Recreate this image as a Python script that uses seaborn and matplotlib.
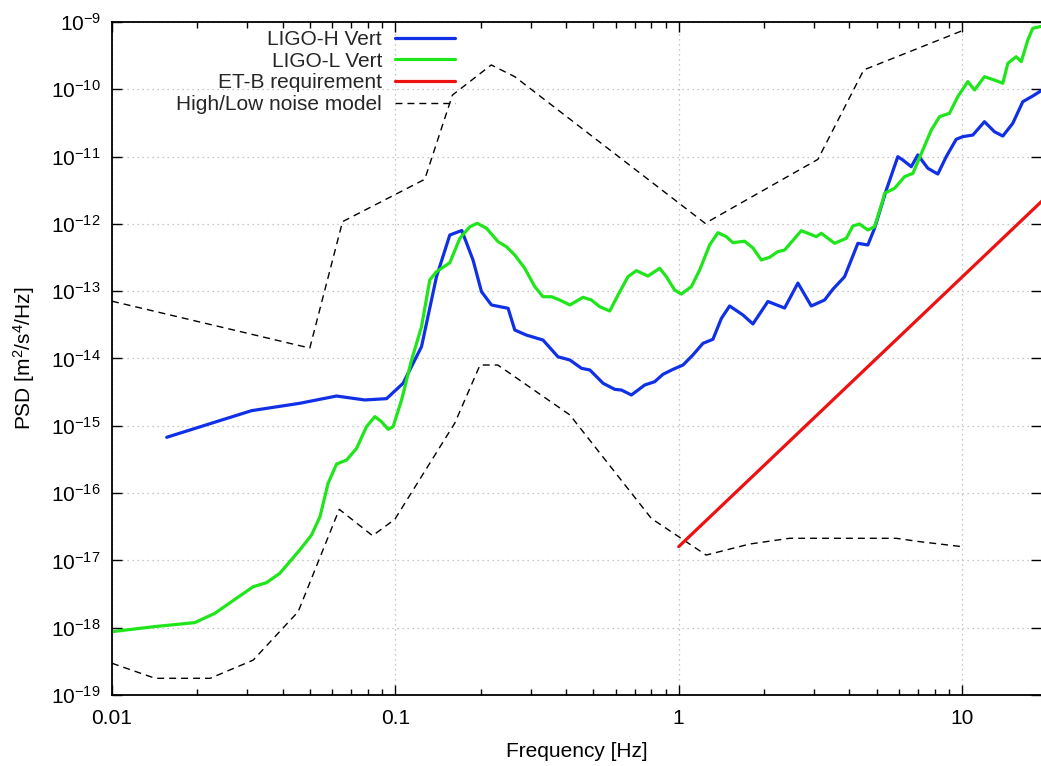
import numpy as np
import pandas as pd
import matplotlib
matplotlib.use("Agg")
import matplotlib.pyplot as plt
import seaborn as sns
from matplotlib.ticker import FixedLocator, FixedFormatter, LogLocator, NullFormatter, LogFormatterSciNotation
from matplotlib.lines import Line2D

# ---------------- data ----------------
h_freq = [0.0156, 0.0311, 0.0460, 0.0620, 0.0780, 0.0931, 0.1065, 0.1237, 0.1397, 0.1557,
          0.1716, 0.188, 0.2014, 0.2184, 0.250, 0.264, 0.290, 0.332, 0.375, 0.413,
          0.454, 0.486, 0.541, 0.595, 0.628, 0.681, 0.759, 0.823, 0.880, 0.955,
          1.036, 1.123, 1.218, 1.321, 1.415, 1.513, 1.686, 1.828, 2.065, 2.365,
          2.635, 2.938, 3.273, 3.502, 3.850, 4.290, 4.653, 4.913, 5.404, 5.935,
          6.182, 6.62, 6.985, 7.576, 8.215, 8.796, 9.54, 10.07, 10.92, 12.0,
          13.02, 13.93, 15.11, 16.39, 17.77, 18.77, 19.0]
h_psd = [6.75e-16, 1.68e-15, 2.16e-15, 2.77e-15, 2.42e-15, 2.53e-15, 4.28e-15, 1.50e-14, 1.64e-13, 6.84e-13,
         7.98e-13, 2.91e-13, 9.84e-14, 6.24e-14, 5.57e-14, 2.65e-14, 2.23e-14, 1.88e-14, 1.06e-14, 9.5e-15,
         7.15e-15, 6.75e-15, 4.28e-15, 3.48e-15, 3.40e-15, 2.87e-15, 4.04e-15, 4.52e-15, 5.82e-15, 6.90e-15,
         8.0e-15, 1.13e-14, 1.68e-14, 1.93e-14, 3.95e-14, 6.03e-14, 4.43e-14, 3.26e-14, 7.03e-14, 5.62e-14,
         1.32e-13, 6.03e-14, 7.40e-14, 1.07e-13, 1.64e-13, 5.15e-13, 4.86e-13, 8.61e-13, 3.19e-12, 9.97e-12,
         8.9e-12, 7.08e-12, 1.06e-11, 6.70e-12, 5.51e-12, 9.97e-12, 1.81e-11, 1.98e-11, 2.09e-11, 3.30e-11,
         2.34e-11, 2.02e-11, 3.13e-11, 6.55e-11, 7.95e-11, 9.2e-11, 9.5e-11]

l_freq = [0.0100, 0.0142, 0.0196, 0.0231, 0.0275, 0.0315, 0.0351, 0.0391, 0.0460, 0.0506,
          0.0542, 0.0579, 0.0620, 0.0673, 0.0730, 0.0791, 0.0847, 0.0894, 0.0943, 0.0982,
          0.1052, 0.1141, 0.1237, 0.1323, 0.1397, 0.1557, 0.1689, 0.1832, 0.1946, 0.2098,
          0.2305, 0.2467, 0.264, 0.2862, 0.3105, 0.332, 0.3556, 0.3803, 0.413, 0.4596,
          0.492, 0.526, 0.571, 0.611, 0.662, 0.709, 0.779, 0.857, 0.905, 0.968,
          1.022, 1.109, 1.186, 1.286, 1.376, 1.473, 1.554, 1.709, 1.828, 1.957,
          2.094, 2.235, 2.365, 2.709, 3.060, 3.186, 3.550, 3.905, 4.120, 4.348,
          4.653, 4.913, 5.256, 5.33, 5.78, 6.27, 6.71, 7.27, 7.79, 8.33,
          9.03, 9.66, 10.48, 11.07, 12.0, 13.02, 13.93, 14.51, 15.53, 16.18,
          17.07, 17.77, 18.77, 19.0]
l_psd = [8.73e-19, 1.04e-18, 1.19e-18, 1.64e-18, 2.74e-18, 4.06e-18, 4.67e-18, 6.43e-18, 1.43e-17, 2.38e-17,
         4.46e-17, 1.40e-16, 2.70e-16, 3.10e-16, 4.63e-16, 9.7e-16, 1.37e-15, 1.15e-15, 8.87e-16, 9.7e-16,
         2.42e-15, 9.5e-15, 2.97e-14, 1.47e-13, 1.95e-13, 2.65e-13, 6.11e-13, 9.08e-13, 1.02e-12, 8.61e-13,
         5.44e-13, 4.58e-13, 3.45e-13, 2.19e-13, 1.17e-13, 8.28e-14, 8.28e-14, 7.40e-14, 6.24e-14, 8.11e-14,
         7.40e-14, 5.89e-14, 5.08e-14, 8.79e-14, 1.64e-13, 2.02e-13, 1.68e-13, 2.19e-13, 1.64e-13, 1.04e-13,
         9.08e-14, 1.17e-13, 2.07e-13, 4.86e-13, 7.40e-13, 6.46e-13, 5.26e-13, 5.53e-13, 4.39e-13, 2.91e-13,
         3.19e-13, 3.86e-13, 4.09e-13, 7.93e-13, 6.46e-13, 7.25e-13, 5.15e-13, 6.11e-13, 9.31e-13, 9.97e-13,
         8.11e-13, 9.08e-13, 2.26e-12, 2.85e-12, 3.38e-12, 5.03e-12, 5.65e-12, 1.25e-11, 2.48e-11, 3.92e-11,
         4.40e-11, 7.76e-11, 1.30e-10, 9.77e-11, 1.54e-10, 1.37e-10, 1.23e-10, 2.43e-10, 3.05e-10, 2.57e-10,
         5.40e-10, 8.06e-10, 8.5e-10, 8.6e-10]

etb_freq = [1.0, 20.0]
etb_psd = [1.6e-17, 2.6e-12]

nhnm_freq = [0.01, 0.0499, 0.0651, 0.127, 0.159, 0.218, 0.264, 1.24, 3.10, 4.50, 10.0]
nhnm_psd = [7.1e-14, 1.43e-14, 1.08e-12, 4.6e-12, 8.2e-11, 2.3e-10, 1.54e-10, 1.02e-12, 9.1e-12, 1.94e-10, 7.4e-10]

nlnm_freq = [0.01, 0.0142, 0.0222, 0.0315, 0.0454, 0.0634, 0.0831, 0.0996, 0.162, 0.199,
             0.230, 0.413, 0.801, 1.25, 1.78, 2.46, 5.86, 7.08, 10.0]
nlnm_psd = [2.96e-19, 1.77e-19, 1.77e-19, 3.3e-19, 1.73e-18, 5.74e-17, 2.33e-17, 4.08e-17, 1.09e-15, 8.0e-15,
            8.0e-15, 1.45e-15, 4.2e-17, 1.2e-17, 1.75e-17, 2.13e-17, 2.13e-17, 1.9e-17, 1.6e-17]

series_labels = ["LIGO-H Vert", "LIGO-L Vert", "ET-B requirement", "High/Low noise model"]
x_ticks = [0.01, 0.1, 1, 10]
x_tick_labels = ["0.01", "0.1", "1", "10"]
y_ticks = [1e-19, 1e-18, 1e-17, 1e-16, 1e-15, 1e-14, 1e-13, 1e-12, 1e-11, 1e-10, 1e-9]
x_label = "Frequency [Hz]"
y_label = "PSD [m$^2$/s$^4$/Hz]"

# ---------------- style ----------------
sns.set_theme(style="white")
plt.rcParams['font.family'] = ['Liberation Sans', 'DejaVu Sans']
plt.rcParams['mathtext.fontset'] = 'custom'
plt.rcParams['mathtext.rm'] = 'Liberation Sans'
plt.rcParams['mathtext.it'] = 'Liberation Sans:italic'
plt.rcParams['mathtext.bf'] = 'Liberation Sans:bold'
plt.rcParams['axes.unicode_minus'] = False

FS = 15
c_blue = "#1030e6"
c_green = "#1ee61a"
c_red = "#ee1111"

fig = plt.figure(figsize=(10.41, 7.66), dpi=100)
ax = fig.add_axes([112 / 1041, 1 - 695 / 766, 1 - 112 / 1041, (695 - 22) / 766])
ax.set_xscale("log")
ax.set_yscale("log")

dash = (5, 3.6)
sns.lineplot(x=nhnm_freq, y=nhnm_psd, ax=ax, color="black", lw=1.0, estimator=None, sort=False,
             dashes=False, legend=False)
sns.lineplot(x=nlnm_freq, y=nlnm_psd, ax=ax, color="black", lw=1.0, estimator=None, sort=False,
             dashes=False, legend=False)
for ln in ax.get_lines():
    ln.set_dashes(dash)
sns.lineplot(x=h_freq, y=h_psd, ax=ax, color=c_blue, lw=2.3, estimator=None, sort=False, legend=False)
sns.lineplot(x=l_freq, y=l_psd, ax=ax, color=c_green, lw=2.3, estimator=None, sort=False, legend=False)
sns.lineplot(x=etb_freq, y=etb_psd, ax=ax, color=c_red, lw=2.3, estimator=None, sort=False, legend=False)

ax.set_xlim(0.01, 19.0)
ax.set_ylim(1e-19, 1e-9)

ax.xaxis.set_major_locator(FixedLocator(x_ticks))
ax.xaxis.set_major_formatter(FixedFormatter(x_tick_labels))
ax.xaxis.set_minor_locator(LogLocator(base=10, subs=np.arange(2, 10), numticks=20))
ax.xaxis.set_minor_formatter(NullFormatter())
ax.yaxis.set_major_locator(FixedLocator(y_ticks))
ax.yaxis.set_major_formatter(LogFormatterSciNotation())
ax.yaxis.set_minor_locator(FixedLocator([]))

ax.tick_params(axis="both", which="major", direction="in", length=7, width=1.0, color="black",
               labelsize=FS, labelcolor="black", top=True, right=True, bottom=True, left=True)
ax.tick_params(axis="x", which="major", pad=10)
ax.tick_params(axis="y", which="major", pad=8)
ax.tick_params(axis="x", which="minor", direction="in", length=4, width=1.0, color="black",
               top=True, bottom=True)

for side in ["left", "bottom", "top"]:
    ax.spines[side].set_visible(True)
    ax.spines[side].set_color("black")
    ax.spines[side].set_linewidth(1.3)
ax.spines["right"].set_visible(False)

ax.grid(True, which="major", color="#b5b5b5", linestyle=(0, (1, 3)), linewidth=0.9)

ax.set_xlabel(x_label, fontsize=FS, color="black", labelpad=10)
ax.set_ylabel(y_label, fontsize=FS, color="black", labelpad=10)

handles = [
    Line2D([], [], color=c_blue, lw=2.3),
    Line2D([], [], color=c_green, lw=2.3),
    Line2D([], [], color=c_red, lw=2.3),
    Line2D([], [], color="black", lw=1.0, dashes=dash),
]
leg = ax.legend(handles, series_labels, loc="upper right",
                bbox_to_anchor=(455 / 1041, 1 - 30 / 766), bbox_transform=fig.transFigure,
                frameon=False, markerfirst=False, fontsize=FS, handlelength=2.9,
                handletextpad=0.6, labelspacing=0.13, borderpad=0, borderaxespad=0)

fig.savefig("out.png", dpi=100)
